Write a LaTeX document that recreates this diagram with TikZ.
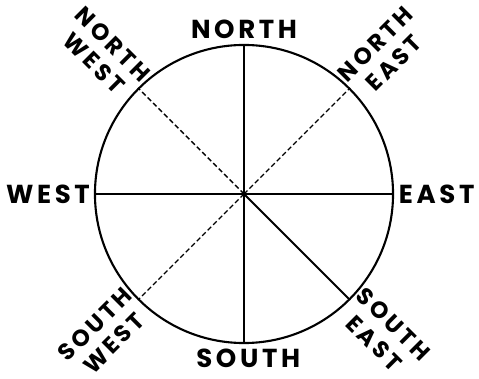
\documentclass[tikz,border=0pt]{standalone}
\usepackage{fontspec}
\newfontfamily\compassfont{Poppins}[LetterSpace=14]
\usepackage{tikz}
\usetikzlibrary{positioning}

\tikzset{
  dir/.style={font=\compassfont\bfseries\fontsize{18.5}{20.5}\selectfont, inner sep=2pt},
  diag/.style={font=\compassfont\bfseries\fontsize{16.5}{19}\selectfont, align=center, inner sep=1.5pt},
  spoke/.style={line width=1.3pt},
  halfspoke/.style={line width=1pt, dash pattern=on 3.5pt off 2pt},
}

\begin{document}
\begin{tikzpicture}[x=0.025cm, y=0.025cm] % one unit = one pixel of the page
        \useasboundingbox (-244,-185) rectangle (235,194);
        \path
        (0,0) coordinate (C)
        (90:149) coordinate (N)
        (270:149) coordinate (S)
        (0:149) coordinate (E)
        (180:149) coordinate (W)
        (45:149) coordinate (NE)
        (135:149) coordinate (NW)
        (225:149) coordinate (SW)
        (315:149) coordinate (SE)
        ;

        \draw[line width=1.5pt] (C) circle (3.725cm);

        \draw[spoke] (N) -- (S);
        \draw[spoke] (W) -- (E);
        \draw[spoke] (C) -- (SE);
        \draw[halfspoke] (C) -- (NE);
        \draw[halfspoke] (C) -- (NW);
        \draw[halfspoke] (C) -- (SW);

        \node[dir, above=2pt of N] (northlbl) {NORTH};
        \node[dir, below=2pt of S, xshift=3pt] (southlbl) {SOUTH};
        \node[dir, left=1.5pt of W] (westlbl) {WEST};
        \node[dir, right=2pt of E] (eastlbl) {EAST};

        \node[diag, rotate=45, anchor=west] (nelbl) at (NE) {NORTH\\EAST};
        \node[diag, rotate=-45, anchor=east] (nwlbl) at (NW) {NORTH\\WEST};
        \node[diag, rotate=45, anchor=east] (swlbl) at (SW) {SOUTH\\WEST};
        \node[diag, rotate=-45, anchor=west] (selbl) at (SE) {SOUTH\\EAST};
\end{tikzpicture}
\end{document}
